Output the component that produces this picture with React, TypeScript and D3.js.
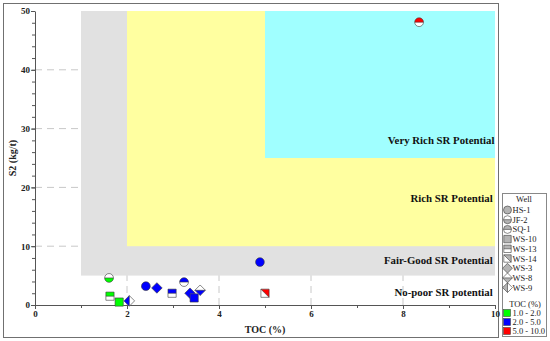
import React, { useEffect, useRef } from 'react'
import * as d3 from 'd3'

const WIDTH = 550
const HEIGHT = 341
const M = { left: 35, right: 55, top: 11, bottom: 36 }

const WELLS = ['HS-1', 'JF-2', 'SQ-1', 'WS-10', 'WS-13', 'WS-14', 'WS-3', 'WS-8', 'WS-9']
const TOC_CLASSES = ['1.0 - 2.0', '2.0 - 5.0', '5.0 - 10.0']
const TOC_BREAKS = [2, 5]
const TOC_COLORS = ['#00ff00', '#0000ff', '#ff0000']

// samples
const sampleWell = ['JF-2', 'WS-13', 'WS-10', 'WS-9', 'HS-1', 'WS-3', 'WS-13', 'SQ-1', 'WS-3', 'WS-10', 'WS-8', 'HS-1', 'WS-14', 'SQ-1']
const sampleToc = [1.61, 1.63, 1.83, 2.05, 2.41, 2.65, 2.98, 3.24, 3.37, 3.46, 3.59, 4.89, 5.0, 8.35]
const sampleS2 = [4.6, 1.5, 0.5, 0.7, 3.2, 2.9, 2.0, 3.9, 2.0, 1.2, 2.5, 7.3, 2.0, 48.1]

// potential zones (TOC %, S2 kg/t)
const zoneName = ['No-poor SR potential', 'Fair-Good SR Potential', 'Rich SR Potential', 'Very Rich SR Potential']
const zoneX0 = [0, 1, 2, 5]
const zoneY0 = [0, 5, 10, 25]
const zoneFill = [null, '#e1e1e1', '#ffffa0', '#a0ffff']
const zoneLabelY = [1.5, 6.9, 17.5, 27.3]

const X_TICKS = [0, 2, 4, 6, 8, 10]
const Y_TICKS = [0, 10, 20, 30, 40, 50]

// marker shape per well: [shape, half]
const wellMarker: Record<string, [string, string]> = {
  'HS-1': ['circle', 'full'],
  'JF-2': ['circle', 'bottom'],
  'SQ-1': ['circle', 'top'],
  'WS-10': ['square', 'full'],
  'WS-13': ['square', 'top'],
  'WS-14': ['square', 'diag'],
  'WS-3': ['diamond', 'full'],
  'WS-8': ['diamond', 'bottom'],
  'WS-9': ['diamond', 'left'],
}

const FONT = '"Liberation Serif", "Times New Roman", serif'

const Marker = ({ well, color, x, y, r = 4.4 }: { well: string; color: string; x: number; y: number; r?: number }) => {
  const [shape, half] = wellMarker[well]
  const stroke = '#3a3a3a'
  let outline = ''
  let fillPath = ''
  let splitLine = ''
  if (shape === 'circle') {
    outline = `M${-r},0A${r},${r} 0 1 1 ${r},0A${r},${r} 0 1 1 ${-r},0Z`
    if (half === 'full') fillPath = outline
    if (half === 'top') fillPath = `M${-r},0A${r},${r} 0 0 1 ${r},0Z`
    if (half === 'bottom') fillPath = `M${-r},0A${r},${r} 0 0 0 ${r},0Z`
    if (half !== 'full') splitLine = `M${-r},0L${r},0`
  } else if (shape === 'square') {
    const s = r - 0.3
    outline = `M${-s},${-s}L${s},${-s}L${s},${s}L${-s},${s}Z`
    if (half === 'full') fillPath = outline
    if (half === 'top') { fillPath = `M${-s},${-s}L${s},${-s}L${s},0L${-s},0Z`; splitLine = `M${-s},0L${s},0` }
    if (half === 'diag') { fillPath = `M${-s},${-s}L${s},${-s}L${s},${s}Z`; splitLine = `M${-s},${-s}L${s},${s}` }
  } else {
    const d = r + 0.9
    outline = `M0,${-d}L${d},0L0,${d}L${-d},0Z`
    if (half === 'full') fillPath = outline
    if (half === 'bottom') { fillPath = `M${-d},0L${d},0L0,${d}Z`; splitLine = `M${-d},0L${d},0` }
    if (half === 'left') { fillPath = `M0,${-d}L${-d},0L0,${d}Z`; splitLine = `M0,${-d}L0,${d}` }
  }
  return (
    <g transform={`translate(${x},${y})`}>
      <path d={outline} fill="#fff" />
      <path d={fillPath} fill={color} />
      {splitLine && <path d={splitLine} stroke={stroke} strokeWidth={0.6} fill="none" />}
      <path d={outline} fill="none" stroke={stroke} strokeWidth={0.6} />
    </g>
  )
}

export default function App() {
  const xAxisRef = useRef<SVGGElement>(null)
  const yAxisRef = useRef<SVGGElement>(null)

  const x = d3.scaleLinear().domain([0, 10]).range([M.left, WIDTH - M.right])
  const y = d3.scaleLinear().domain([0, 50]).range([HEIGHT - M.bottom, M.top])

  const tocColor = d3.scaleThreshold<number, string>().domain(TOC_BREAKS).range(TOC_COLORS)

  useEffect(() => {
    const styleAxis = (g: d3.Selection<SVGGElement, unknown, null, undefined>) => {
      g.select('.domain').attr('stroke', '#555')
      g.selectAll('.tick line').attr('stroke', '#555')
      g.selectAll('.tick text')
        .attr('font-family', FONT)
        .attr('font-weight', 'bold')
        .attr('font-size', 9)
        .attr('fill', '#222')
    }
    const xg = d3.select(xAxisRef.current!)
    xg.selectAll('*').remove()
    xg.append('g').call(d3.axisBottom(x).tickValues(d3.range(0, 11, 1)).tickSize(3).tickFormat(() => ''))
      .call(g => g.select('.domain').remove())
      .call(g => g.selectAll('line').attr('stroke', '#555'))
    xg.append('g').call(d3.axisBottom(x).tickValues(X_TICKS).tickSize(4).tickSizeOuter(0).tickPadding(2).tickFormat(d3.format('d')))
      .call(styleAxis)

    const yg = d3.select(yAxisRef.current!)
    yg.selectAll('*').remove()
    yg.append('g').call(d3.axisLeft(y).tickValues(d3.range(0, 51, 2)).tickSize(3).tickFormat(() => ''))
      .call(g => g.select('.domain').remove())
      .call(g => g.selectAll('line').attr('stroke', '#555'))
    yg.append('g').call(d3.axisLeft(y).tickValues(Y_TICKS).tickSize(4).tickSizeOuter(0).tickPadding(1).tickFormat(d3.format('d')))
      .call(styleAxis)
  }, [])

  const legendX = 502
  const legendTop = 193
  const rowH = 9.7

  return (
    <svg width={WIDTH} height={HEIGHT} style={{ position: 'absolute', left: 0, top: 0, background: '#fff' }}>
      <defs>
        <clipPath id="plot-clip">
          <rect x={x(0)} y={y(50)} width={x(10) - x(0)} height={y(0) - y(50)} />
        </clipPath>
      </defs>
      <rect x={3.5} y={3.5} width={495} height={334} fill="none" stroke="#707070" />

      {/* grid */}
      <g stroke="#c8c8c8" strokeDasharray="7,5" strokeWidth={1}>
        {Y_TICKS.slice(1, -1).map(v => (
          <line key={'gy' + v} x1={x(0)} x2={x(10)} y1={y(v)} y2={y(v)} />
        ))}
        {X_TICKS.slice(1, -1).map(v => (
          <line key={'gx' + v} x1={x(v)} x2={x(v)} y1={y(0)} y2={y(50)} />
        ))}
      </g>

      {/* zones */}
      {zoneName.map((n, i) => zoneFill[i] && (
        <rect key={n} x={x(zoneX0[i])} y={y(50)} width={x(10) - x(zoneX0[i])} height={y(zoneY0[i]) - y(50)} fill={zoneFill[i]!} />
      ))}
      <g clipPath="url(#plot-clip)" fontFamily={FONT} fontWeight="bold" fontSize={10.8} fill="#111">
        {zoneName.map((n, i) => (
          i === 3
            ? <text key={n} x={x(7.67)} y={y(zoneLabelY[i])}>{n}</text>
            : <text key={n} x={x(9.95)} y={y(zoneLabelY[i])} textAnchor="end">{n}</text>
        ))}
      </g>

      <g ref={xAxisRef} transform={`translate(0,${y(0)})`} />
      <g ref={yAxisRef} transform={`translate(${x(0)},0)`} />

      {/* samples */}
      {sampleWell.map((w, i) => (
        <Marker key={i} well={w} color={tocColor(sampleToc[i])} x={x(sampleToc[i])} y={y(sampleS2[i])} />
      ))}

      {/* axis titles */}
      <text x={(x(0) + x(10)) / 2} y={333} textAnchor="middle" fontFamily={FONT} fontWeight="bold" fontSize={10} fill="#222">TOC (%)</text>
      <text transform={`translate(16,${(y(0) + y(50)) / 2}) rotate(-90)`} textAnchor="middle" fontFamily={FONT} fontWeight="bold" fontSize={10} fill="#222">S2 (kg/t)</text>

      {/* legend */}
      <g fontFamily={FONT} fontSize={8.5} fill="#222">
        <rect x={legendX + 0.5} y={legendTop + 0.5} width={44} height={143} fill="#fff" stroke="#888" />
        <text x={legendX + 22} y={legendTop + 9} textAnchor="middle">Well</text>
        {WELLS.map((w, i) => (
          <g key={w}>
            <Marker well={w} color="#b4b4b4" x={legendX + 5.5} y={legendTop + 17 + i * rowH} r={4} />
            <text x={legendX + 10.5} y={legendTop + 20 + i * rowH}>{w}</text>
          </g>
        ))}
        <text x={legendX + 23} y={legendTop + 114} textAnchor="middle">TOC (%)</text>
        {TOC_CLASSES.map((c, i) => (
          <g key={c}>
            <rect x={legendX + 1.5} y={legendTop + 116.5 + i * 9} width={7} height={7} fill={TOC_COLORS[i]} stroke="#444" strokeWidth={0.6} />
            <text x={legendX + 10.5} y={legendTop + 123 + i * 9}>{c}</text>
          </g>
        ))}
      </g>
    </svg>
  )
}
